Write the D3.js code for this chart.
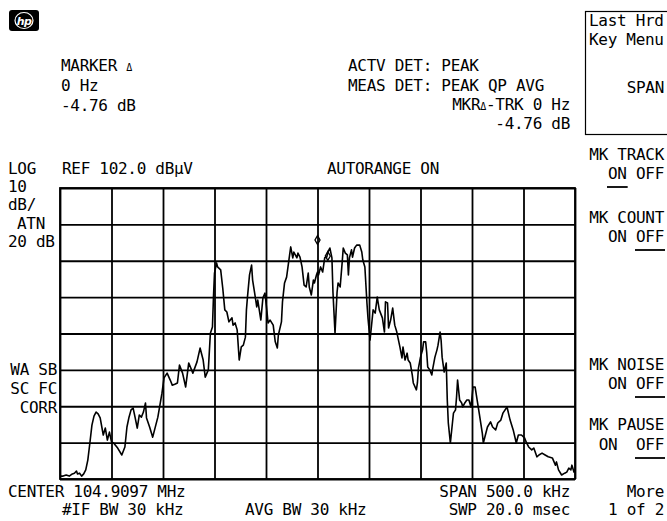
<!DOCTYPE html>
<html><head><meta charset="utf-8">
<script src="https://cdn.jsdelivr.net/npm/d3@7"></script>
<style>
html,body{margin:0;padding:0;background:#fff;}
svg text{font-family:"DejaVu Sans Mono",monospace;font-size:16px;letter-spacing:-0.3px;fill:#000;white-space:pre;}
</style></head>
<body><svg id="c" width="667" height="521"></svg>
<script>
// Trace: frequency offset from center (kHz) and level (dBµV)
const freqKHz = [-250,-247,-244,-241,-238,-236,-234,-233,-231,-229,-227,-225,-223,-221,-219,-217,-215,-213,-211,-208,-206,-204,-202,-200,-198,-194,-190,-187,-185,-183,-181,-179,-177,-175,-173,-171,-169,-167,-166,-163,-160,-157,-155,-153,-151,-149,-146,-143,-141,-138,-136,-134,-131,-128,-125,-121,-117,-114,-111,-109,-106,-104,-102,-101,-100,-98,-97,-94,-92,-90,-88,-86,-83,-82,-80,-78,-76,-74,-72,-70,-69,-68,-66,-64,-63,-61,-59,-58,-55,-53,-51,-49,-48,-46,-43,-41,-39,-38,-35,-34,-32,-30,-28,-26,-24,-23,-20,-19,-17,-15,-13,-11,-9,-8,-6,-4,-3,-1,0,1,3,5,7,9,10,12,14,15,17,19,20,22,24,25,27,29,30,31,33,34,36,38,41,43,44,46,48,49,51,53,54,56,58,60,63,65,66,68,69,71,73,75,77,78,80,82,83,85,87,88,90,92,93,96,97,98,100,102,103,105,106,107,109,111,112,114,116,117,119,120,121,123,125,126,127,129,131,132,134,135,136,138,140,141,143,145,147,149,151,153,155,157,160,161,165,168,170,173,175,178,180,184,187,190,193,195,198,201,203,205,208,210,213,215,218,221,224,228,231,232,234,237,240,242,244,246,247,249,250];
const levelDB = [22.8,22.8,23.1,22.8,23.4,23.6,24.2,23.4,23.6,22.8,23.4,24.5,27.2,31.9,36.8,39.3,40.4,39.9,38.8,34.1,36.0,32.7,34.9,32.2,31.9,30.5,28.6,30.8,36.3,39.0,41.0,41.5,38.8,36.0,39.6,39.0,40.4,42.9,38.8,36.3,33.5,36.8,39.0,42.3,45.6,49.8,51.1,49.2,47.8,48.1,48.4,53.3,51.1,47.3,53.9,51.1,54.2,58.0,54.7,50.0,52.0,62.1,63.8,72.0,78.6,81.4,80.3,79.5,74.5,68.5,67.9,65.2,66.3,64.3,64.9,63.0,54.7,58.3,58.8,61.0,68.5,72.0,78.1,80.8,76.7,73.1,69.3,71.2,65.7,71.8,73.1,67.9,64.9,65.7,64.3,59.7,58.0,61.6,65.2,70.7,75.9,77.5,81.7,85.8,82.8,84.4,82.8,84.1,83.0,80.3,75.3,74.8,78.6,74.8,72.6,76.7,75.9,78.1,78.9,78.1,80.3,78.9,82.8,83.0,84.4,85.5,82.8,73.4,62.1,73.4,75.9,74.8,81.7,85.5,84.1,83.6,78.1,82.8,85.0,83.0,85.5,86.3,86.3,84.4,82.2,80.3,70.4,66.3,60.2,65.7,68.5,67.6,72.0,68.5,66.3,62.4,70.7,70.4,63.5,65.7,69.0,64.3,62.4,61.0,58.3,55.3,58.3,54.7,56.6,54.7,53.9,50.6,48.4,46.5,48.4,52.5,55.5,57.5,59.7,59.7,56.9,52.8,52.0,50.6,52.5,55.5,57.5,58.8,62.4,60.2,55.5,51.4,53.9,43.7,37.4,31.9,37.4,40.1,41.0,44.5,49.2,43.7,42.9,41.8,42.9,43.7,43.7,41.8,47.3,47.3,43.7,40.1,34.6,31.9,36.3,37.7,36.3,35.5,37.4,38.2,40.1,41.8,38.2,35.5,31.9,34.1,34.1,33.3,31.9,30.8,30.0,30.5,28.1,28.6,29.1,28.6,28.1,27.8,25.8,26.7,24.5,23.1,23.6,23.9,25.0,24.5,25.8,23.9,24.5];
// Markers (kHz, dBµV)
const markerFreq = [0, 10];
const markerLevel = [87.7, 83.3];
// Grid divisions
const xTicks = [-250,-200,-150,-100,-50,0,50,100,150,200,250];
const yTicks = [22,32,42,52,62,72,82,92,102];

const svg = d3.select("#c");
const L = 60, R = 575, T = 188, B = 479;
const x = d3.scaleLinear().domain([-250, 250]).range([L, R]);
const y = d3.scaleLinear().domain([22, 102]).range([B, T]);

// grid
svg.append("g").attr("transform", `translate(0,${B})`)
  .call(d3.axisBottom(x).tickValues(xTicks).tickSize(-(B - T)).tickFormat(""));
svg.append("g").attr("transform", `translate(${L},0)`)
  .call(d3.axisLeft(y).tickValues(yTicks).tickSize(-(R - L)).tickFormat(""));
svg.selectAll(".domain").remove();
svg.selectAll(".tick line").attr("stroke", "#000").attr("stroke-width", 1.8);
svg.append("rect").attr("x", L).attr("y", T).attr("width", R - L).attr("height", B - T)
  .attr("fill", "none").attr("stroke", "#000").attr("stroke-width", 1.8);

// trace
const pts = freqKHz.map((f, i) => [f, levelDB[i]]);
svg.append("path").datum(pts)
  .attr("fill", "none").attr("stroke", "#000").attr("stroke-width", 1.6)
  .attr("stroke-linejoin", "round")
  .attr("d", d3.line().x(d => x(d[0])).y(d => y(d[1])));

// markers
svg.selectAll(".mk").data(markerFreq).enter().append("path")
  .attr("transform", (d, i) => `translate(${x(d)},${y(markerLevel[i])})`)
  .attr("d", d3.symbol().type(d3.symbolDiamond).size(22))
  .attr("fill", "none").attr("stroke", "#000").attr("stroke-width", 1.3);

// hp logo
svg.append("rect").attr("x", 9).attr("y", 10).attr("width", 30).attr("height", 21).attr("rx", 3).attr("fill", "#000");
svg.append("ellipse").attr("cx", 24).attr("cy", 20.5).attr("rx", 9).attr("ry", 8).attr("fill", "none").attr("stroke", "#fff").attr("stroke-width", 1.2);
svg.append("text").attr("x", 24).attr("y", 25).attr("text-anchor", "middle")
  .style("font-family", "DejaVu Sans").style("font-size", "11px").style("font-style", "italic").style("font-weight", "bold")
  .style("fill", "#fff").style("letter-spacing", "-0.5px").text("hp");

function txt(t, xx, yy, anchor) {
  return svg.append("text").attr("x", xx).attr("y", yy).attr("text-anchor", anchor || "start").text(t);
}
function txtDelta(pre, post, xx, yy, anchor) {
  const e = svg.append("text").attr("x", xx).attr("y", yy).attr("text-anchor", anchor || "start");
  e.append("tspan").text(pre);
  e.append("tspan").style("font-size", "10px").text("Δ");
  e.append("tspan").text(post);
  return e;
}
function underline(el, start, end) {
  const n = el.node();
  const cnt = n.getNumberOfChars();
  const e = Math.min(end, cnt - 1);
  const x0 = n.getStartPositionOfChar(Math.min(start, cnt - 1)).x;
  const x1 = n.getEndPositionOfChar(e).x;
  const yy = +el.attr("y") + 8;
  svg.append("line").attr("x1", x0 - 1).attr("x2", x1 + 1).attr("y1", yy).attr("y2", yy)
    .attr("stroke", "#000").attr("stroke-width", 1.8);
}

txtDelta("MARKER ", "", 61, 71);
txt("0 Hz", 61, 91);
txt("-4.76 dB", 61, 111);

txt("ACTV DET: PEAK", 348, 71);
txt("MEAS DET: PEAK QP AVG", 348, 91);
txtDelta("MKR", "-TRK 0 Hz", 570, 110, "end");
txt("-4.76 dB", 570, 129, "end");

svg.append("rect").attr("x", 585.5).attr("y", 11.5).attr("width", 100).attr("height", 123)
  .attr("fill", "none").attr("stroke", "#000").attr("stroke-width", 1.2);
txt("Last Hrd", 589, 26);
txt("Key Menu", 589, 45);
txt("SPAN", 664, 93, "end");

txt("LOG", 8, 174);
txt("REF 102.0 dBµV", 62, 174);
txt("AUTORANGE ON", 327, 174);
txt("10", 8, 192);
txt("dB/", 8, 210);
txt("ATN", 17, 229);
txt("20 dB", 8, 247);

txt("WA SB", 57, 375, "end");
txt("SC FC", 57, 394, "end");
txt("CORR", 57, 413, "end");

txt("MK TRACK", 664, 160, "end");
underline(txt("ON OFF", 664, 179, "end"), 0, 1);
txt("MK COUNT", 664, 223, "end");
underline(txt("ON OFF", 664, 242, "end"), 3, 5);
txt("MK NOISE", 664, 370, "end");
underline(txt("ON OFF", 664, 389, "end"), 3, 5);
txt("MK PAUSE", 664, 430, "end");
underline(txt("ON  OFF", 664, 450, "end"), 4, 6);
txt("More", 664, 497, "end");
txt("1 of 2", 664, 515, "end");

txt("CENTER 104.9097 MHz", 8, 497);
txt("#IF BW 30 kHz", 62, 515);
txt("AVG BW 30 kHz", 245, 515);
txt("SPAN 500.0 kHz", 570, 497, "end");
txt("SWP 20.0 msec", 570, 515, "end");
</script></body></html>
